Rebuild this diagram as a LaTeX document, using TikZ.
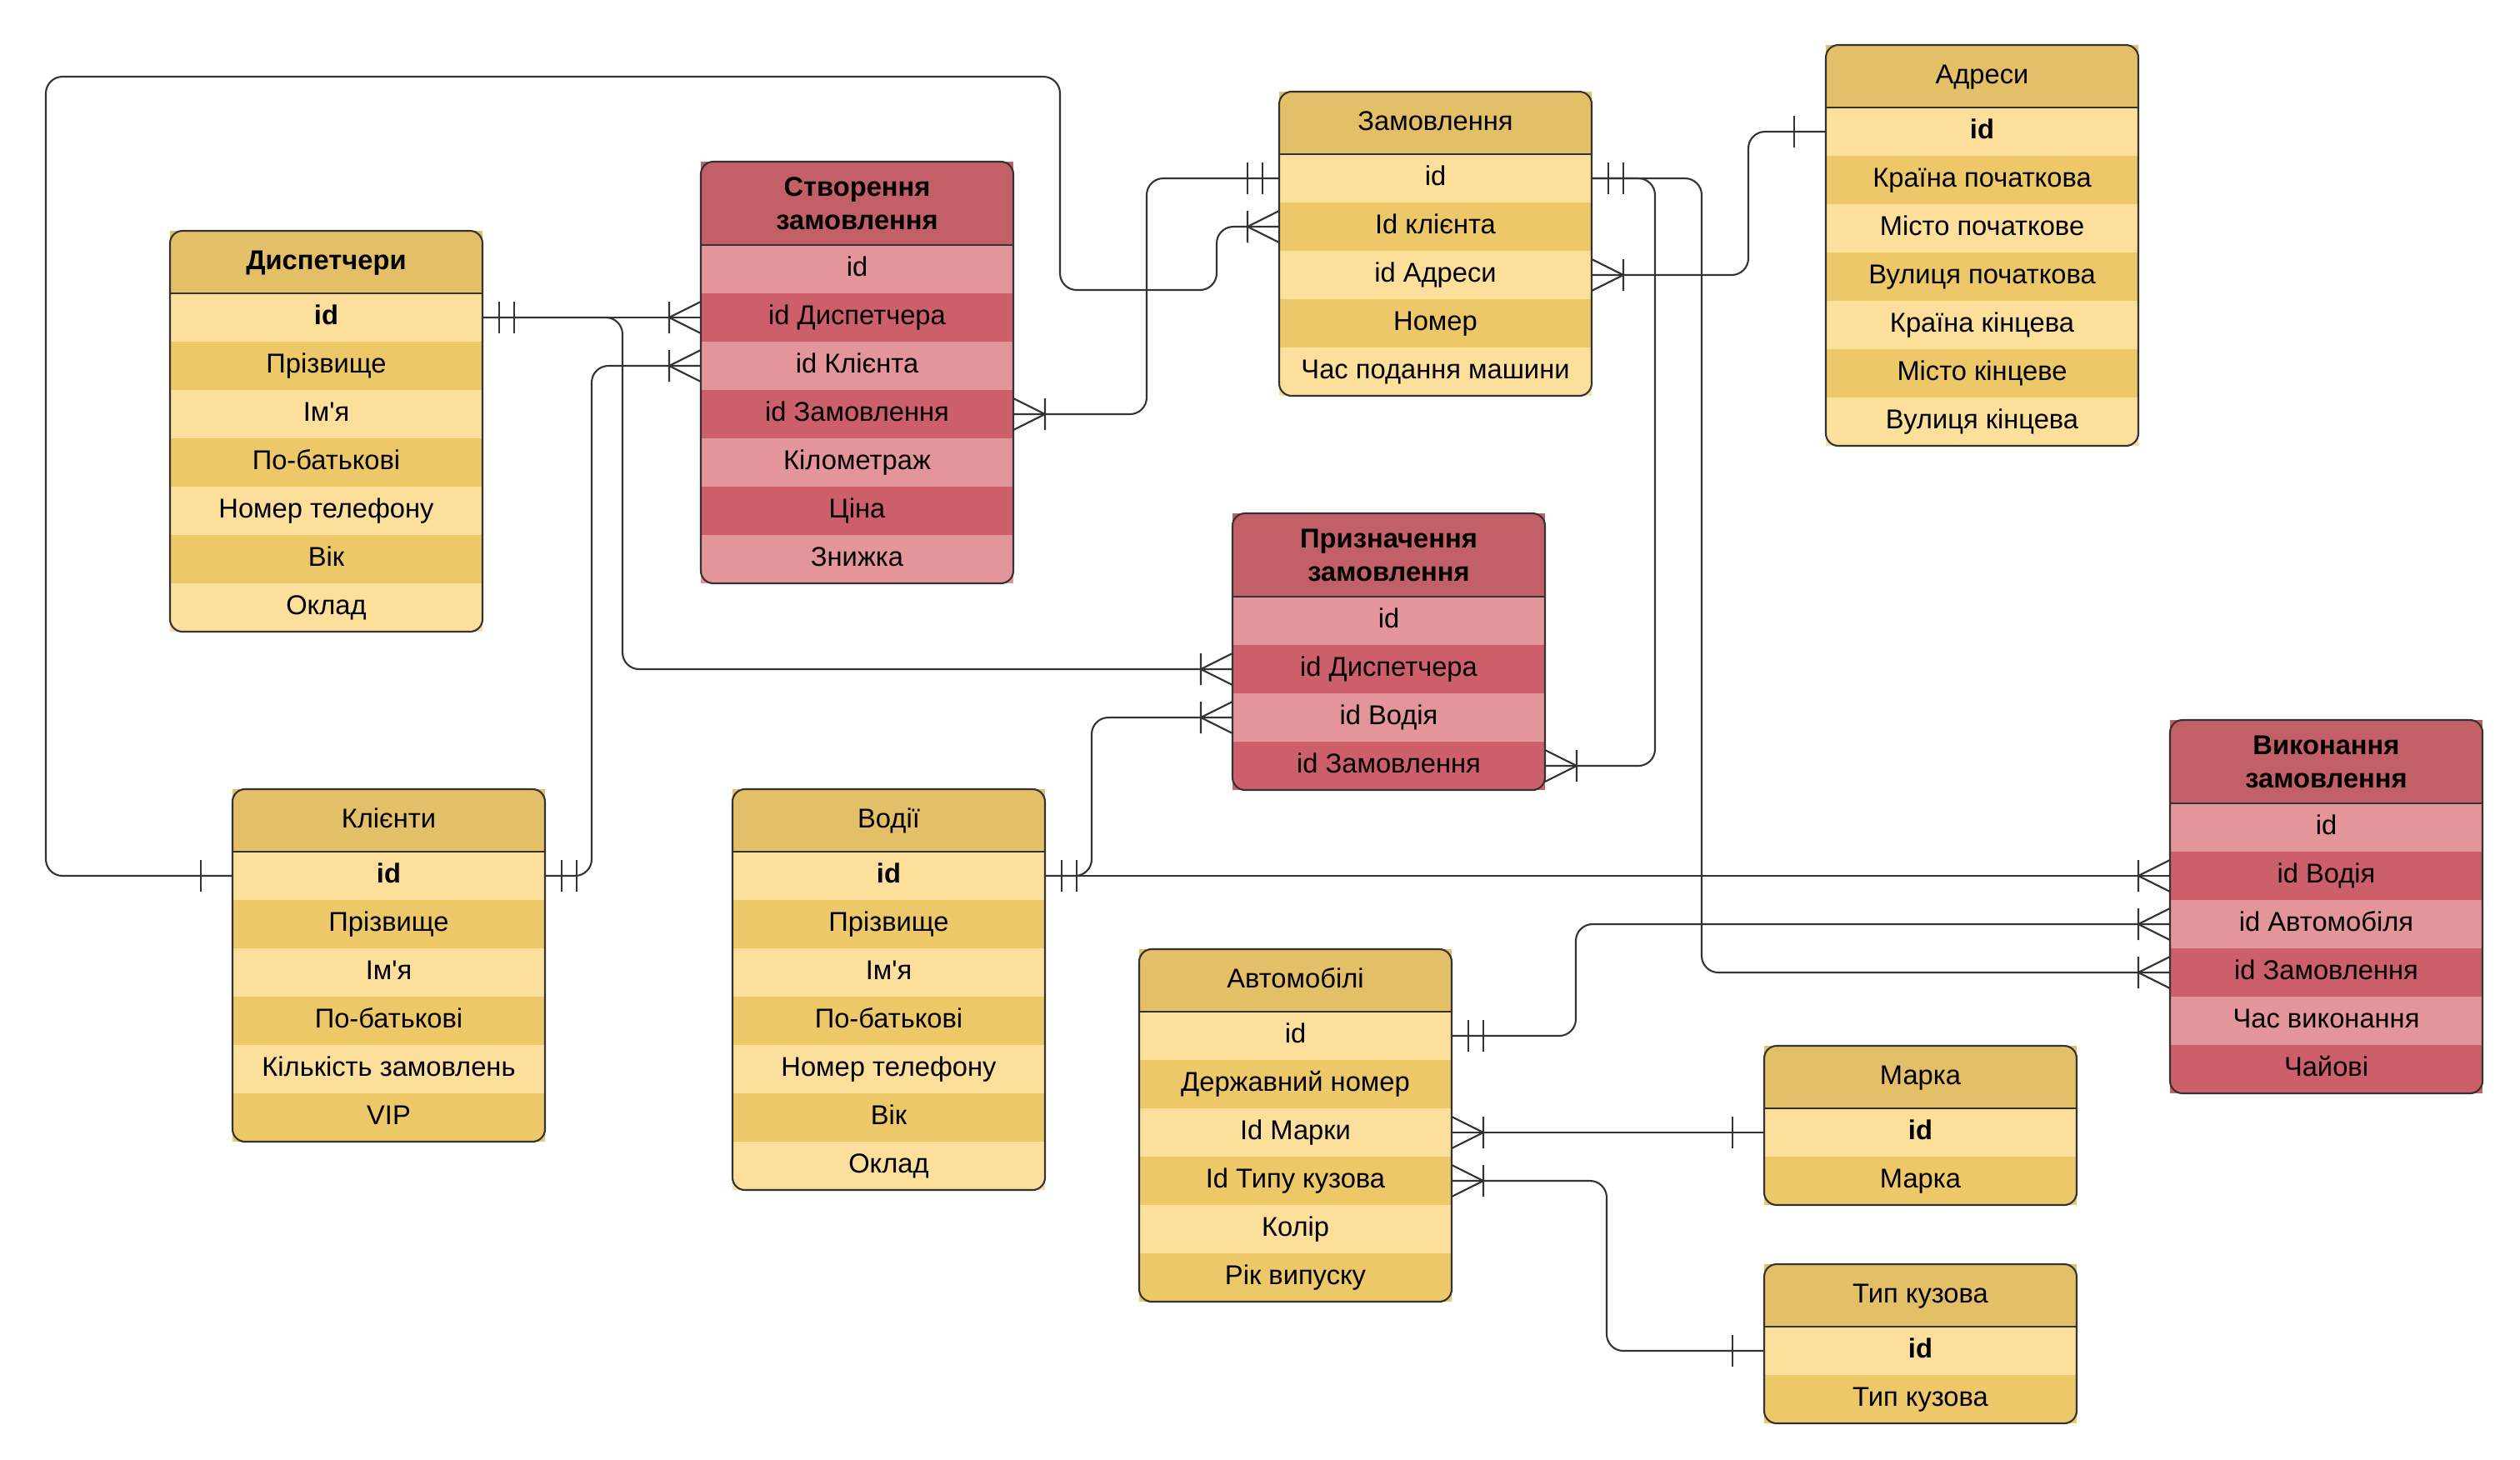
\documentclass[tikz,border=0pt]{standalone}
\usepackage{fontspec}
\setmainfont{Liberation Sans}[Ligatures=TeXOff]
\usepackage{tikz}
\usetikzlibrary{calc}
\usepackage{xcolor}

\definecolor{yhead}{HTML}{E3BF67}
\definecolor{ylight}{HTML}{FCDF9B}
\definecolor{ydark}{HTML}{EDC868}
\definecolor{rhead}{HTML}{C25F67}
\definecolor{rlight}{HTML}{E4959A}
\definecolor{rdark}{HTML}{CD5F6A}
\definecolor{edge}{HTML}{333333}

\begin{document}
\begin{tikzpicture}[
  every node/.style={inner sep=0pt, outer sep=0pt, minimum width=3.75cm, font=\fontsize{9.3}{11.4}\selectfont},
  hdr/.style={fill=yhead, minimum height=0.75cm, text height=7pt, text depth=2pt},
  hdrb/.style={hdr, font=\fontsize{9.3}{11.4}\selectfont\bfseries},
  hdrr/.style={fill=rhead, minimum height=1cm, align=center, font=\fontsize{9.3}{11.4}\selectfont\bfseries},
  rowl/.style={fill=ylight, minimum height=0.58cm, text height=7pt, text depth=2pt},
  rowd/.style={fill=ydark, minimum height=0.58cm, text height=7pt, text depth=2pt},
  rowrl/.style={fill=rlight, minimum height=0.58cm, text height=7pt, text depth=2pt},
  rowrd/.style={fill=rdark, minimum height=0.58cm, text height=7pt, text depth=2pt},
  pk/.style={font=\fontsize{9.3}{11.4}\selectfont\bfseries},
  tblframe/.style={draw=edge, line width=0.6pt, rounded corners=1.5mm},
  tblline/.style={draw=edge, line width=0.6pt},
  conn/.style={draw=edge, line width=0.6pt, rounded corners=2mm},
  crowfoot/.pic={\draw[tblline] (0,0.19) -- (0.38,0) -- (0,-0.19) (0.38,0.19) -- (0.38,-0.19);},
  twobars/.pic={\draw[tblline] (0.2,0.19) -- (0.2,-0.19) (0.38,0.19) -- (0.38,-0.19);},
  onebar/.pic={\draw[tblline] (0.38,0.19) -- (0.38,-0.19);}
]
\useasboundingbox (0,0) rectangle (30.24,-17.51);

% Диспетчери
\node[hdrb]    (dsp-h) at (3.915,-3.145) {Диспетчери};
\node[rowl,pk] (dsp-1) at (3.915,-3.81) {id};
\node[rowd]    (dsp-2) at (3.915,-4.39) {Прізвище};
\node[rowl]    (dsp-3) at (3.915,-4.97) {Ім'я};
\node[rowd]    (dsp-4) at (3.915,-5.55) {По-батькові};
\node[rowl]    (dsp-5) at (3.915,-6.13) {Номер телефону};
\node[rowd]    (dsp-6) at (3.915,-6.71) {Вік};
\node[rowl]    (dsp-7) at (3.915,-7.29) {Оклад};
\draw[tblframe] (dsp-h.north west) rectangle (dsp-7.south east);
\draw[tblline] (dsp-h.south west) -- (dsp-h.south east);

% Створення замовлення
\node[hdrr]  (sz-h) at (10.285,-2.44) {Створення\\замовлення};
\node[rowrl] (sz-1) at (10.285,-3.23) {id};
\node[rowrd] (sz-2) at (10.285,-3.81) {id Диспетчера};
\node[rowrl] (sz-3) at (10.285,-4.39) {id Клієнта};
\node[rowrd] (sz-4) at (10.285,-4.97) {id Замовлення};
\node[rowrl] (sz-5) at (10.285,-5.55) {Кілометраж};
\node[rowrd] (sz-6) at (10.285,-6.13) {Ціна};
\node[rowrl] (sz-7) at (10.285,-6.71) {Знижка};
\draw[tblframe] (sz-h.north west) rectangle (sz-7.south east);
\draw[tblline] (sz-h.south west) -- (sz-h.south east);

% Замовлення
\node[hdr]  (zm-h) at (17.225,-1.475) {Замовлення};
\node[rowl] (zm-1) at (17.225,-2.14) {id};
\node[rowd] (zm-2) at (17.225,-2.72) {Id клієнта};
\node[rowl] (zm-3) at (17.225,-3.30) {id Адреси};
\node[rowd] (zm-4) at (17.225,-3.88) {Номер};
\node[rowl] (zm-5) at (17.225,-4.46) {Час подання машини};
\draw[tblframe] (zm-h.north west) rectangle (zm-5.south east);
\draw[tblline] (zm-h.south west) -- (zm-h.south east);

% Адреси
\node[hdr]     (adr-h) at (23.785,-0.915) {Адреси};
\node[rowl,pk] (adr-1) at (23.785,-1.58) {id};
\node[rowd]    (adr-2) at (23.785,-2.16) {Країна початкова};
\node[rowl]    (adr-3) at (23.785,-2.74) {Місто початкове};
\node[rowd]    (adr-4) at (23.785,-3.32) {Вулиця початкова};
\node[rowl]    (adr-5) at (23.785,-3.90) {Країна кінцева};
\node[rowd]    (adr-6) at (23.785,-4.48) {Місто кінцеве};
\node[rowl]    (adr-7) at (23.785,-5.06) {Вулиця кінцева};
\draw[tblframe] (adr-h.north west) rectangle (adr-7.south east);
\draw[tblline] (adr-h.south west) -- (adr-h.south east);

% Призначення замовлення
\node[hdrr]  (pz-h) at (16.665,-6.66) {Призначення\\замовлення};
\node[rowrl] (pz-1) at (16.665,-7.45) {id};
\node[rowrd] (pz-2) at (16.665,-8.03) {id Диспетчера};
\node[rowrl] (pz-3) at (16.665,-8.61) {id Водія};
\node[rowrd] (pz-4) at (16.665,-9.19) {id Замовлення};
\draw[tblframe] (pz-h.north west) rectangle (pz-4.south east);
\draw[tblline] (pz-h.south west) -- (pz-h.south east);

% Виконання замовлення
\node[hdrr]  (vk-h) at (27.915,-9.14) {Виконання\\замовлення};
\node[rowrl] (vk-1) at (27.915,-9.93) {id};
\node[rowrd] (vk-2) at (27.915,-10.51) {id Водія};
\node[rowrl] (vk-3) at (27.915,-11.09) {id Автомобіля};
\node[rowrd] (vk-4) at (27.915,-11.67) {id Замовлення};
\node[rowrl] (vk-5) at (27.915,-12.25) {Час виконання};
\node[rowrd] (vk-6) at (27.915,-12.83) {Чайові};
\draw[tblframe] (vk-h.north west) rectangle (vk-6.south east);
\draw[tblline] (vk-h.south west) -- (vk-h.south east);

% Клієнти
\node[hdr]     (kl-h) at (4.665,-9.845) {Клієнти};
\node[rowl,pk] (kl-1) at (4.665,-10.51) {id};
\node[rowd]    (kl-2) at (4.665,-11.09) {Прізвище};
\node[rowl]    (kl-3) at (4.665,-11.67) {Ім'я};
\node[rowd]    (kl-4) at (4.665,-12.25) {По-батькові};
\node[rowl]    (kl-5) at (4.665,-12.83) {Кількість замовлень};
\node[rowd]    (kl-6) at (4.665,-13.41) {VIP};
\draw[tblframe] (kl-h.north west) rectangle (kl-6.south east);
\draw[tblline] (kl-h.south west) -- (kl-h.south east);

% Водії
\node[hdr]     (vd-h) at (10.665,-9.845) {Водії};
\node[rowl,pk] (vd-1) at (10.665,-10.51) {id};
\node[rowd]    (vd-2) at (10.665,-11.09) {Прізвище};
\node[rowl]    (vd-3) at (10.665,-11.67) {Ім'я};
\node[rowd]    (vd-4) at (10.665,-12.25) {По-батькові};
\node[rowl]    (vd-5) at (10.665,-12.83) {Номер телефону};
\node[rowd]    (vd-6) at (10.665,-13.41) {Вік};
\node[rowl]    (vd-7) at (10.665,-13.99) {Оклад};
\draw[tblframe] (vd-h.north west) rectangle (vd-7.south east);
\draw[tblline] (vd-h.south west) -- (vd-h.south east);

% Автомобілі
\node[hdr]  (av-h) at (15.545,-11.765) {Автомобілі};
\node[rowl] (av-1) at (15.545,-12.43) {id};
\node[rowd] (av-2) at (15.545,-13.01) {Державний номер};
\node[rowl] (av-3) at (15.545,-13.59) {Id Марки};
\node[rowd] (av-4) at (15.545,-14.17) {Id Типу кузова};
\node[rowl] (av-5) at (15.545,-14.75) {Колір};
\node[rowd] (av-6) at (15.545,-15.33) {Рік випуску};
\draw[tblframe] (av-h.north west) rectangle (av-6.south east);
\draw[tblline] (av-h.south west) -- (av-h.south east);

% Марка
\node[hdr]     (mk-h) at (23.045,-12.925) {Марка};
\node[rowl,pk] (mk-1) at (23.045,-13.59) {id};
\node[rowd]    (mk-2) at (23.045,-14.17) {Марка};
\draw[tblframe] (mk-h.north west) rectangle (mk-2.south east);
\draw[tblline] (mk-h.south west) -- (mk-h.south east);

% Тип кузова
\node[hdr]     (tk-h) at (23.045,-15.545) {Тип кузова};
\node[rowl,pk] (tk-1) at (23.045,-16.21) {id};
\node[rowd]    (tk-2) at (23.045,-16.79) {Тип кузова};
\draw[tblframe] (tk-h.north west) rectangle (tk-2.south east);
\draw[tblline] (tk-h.south west) -- (tk-h.south east);

% зв'язки
\draw[conn] (dsp-1.east) -- (sz-2.west);
\draw[conn] (dsp-1.east) -| (7.47,-5) |- (pz-2.west);
\pic at (dsp-1.east) {twobars};
\pic[xscale=-1] at (sz-2.west) {crowfoot};
\pic[xscale=-1] at (pz-2.west) {crowfoot};

\draw[conn] (kl-1.east) -| (7.10,-7) |- (sz-3.west);
\draw[conn] (kl-1.west) -| (0.55,-0.92) -| (12.72,-3.48) -| ([xshift=-7.5mm]zm-2.west) -- (zm-2.west);
\pic at (kl-1.east) {twobars};
\pic[xscale=-1] at (kl-1.west) {onebar};
\pic[xscale=-1] at (sz-3.west) {crowfoot};
\pic[xscale=-1] at (zm-2.west) {crowfoot};

\draw[conn] (sz-4.east) -| (13.76,-3) |- (zm-1.west);
\pic at (sz-4.east) {crowfoot};
\pic[xscale=-1] at (zm-1.west) {twobars};

\draw[conn] (zm-3.east) -| (20.98,-2.5) |- (adr-1.west);
\pic at (zm-3.east) {crowfoot};
\pic[xscale=-1] at (adr-1.west) {onebar};

\draw[conn] (zm-1.east) -| (19.86,-5) |- (pz-4.east);
\draw[conn] (zm-1.east) -| (20.42,-8) |- (vk-4.west);
\pic at (zm-1.east) {twobars};
\pic at (pz-4.east) {crowfoot};
\pic[xscale=-1] at (vk-4.west) {crowfoot};

\draw[conn] (vd-1.east) -- (vk-2.west);
\draw[conn] (vd-1.east) -| (13.10,-9.5) |- (pz-3.west);
\pic at (vd-1.east) {twobars};
\pic[xscale=-1] at (vk-2.west) {crowfoot};
\pic[xscale=-1] at (pz-3.west) {crowfoot};

\draw[conn] (av-1.east) -| (18.91,-12) |- (vk-3.west);
\draw[conn] (av-3.east) -- (mk-1.west);
\draw[conn] (av-4.east) -| (19.28,-15) |- (tk-1.west);
\pic at (av-1.east) {twobars};
\pic at (av-3.east) {crowfoot};
\pic at (av-4.east) {crowfoot};
\pic[xscale=-1] at (vk-3.west) {crowfoot};
\pic[xscale=-1] at (mk-1.west) {onebar};
\pic[xscale=-1] at (tk-1.west) {onebar};
\end{tikzpicture}
\end{document}
